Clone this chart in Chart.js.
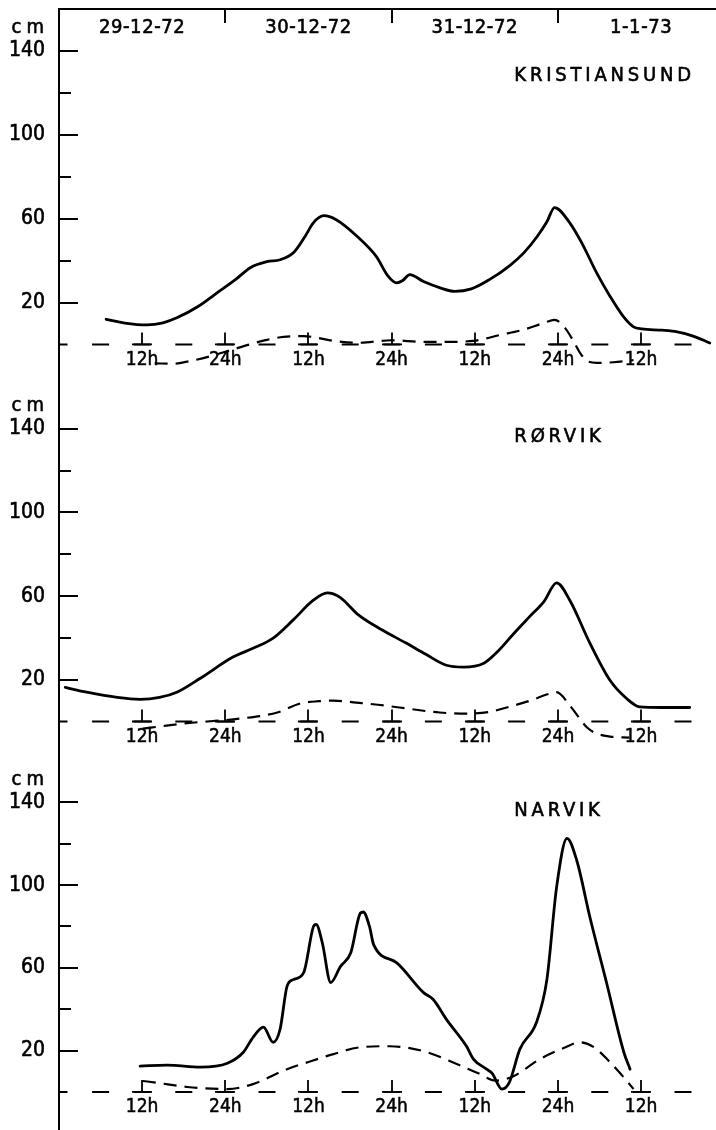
<!DOCTYPE html>
<html>
<head>
<meta charset="utf-8">
<script src="https://cdn.jsdelivr.net/npm/chart.js@4.4.1/dist/chart.umd.min.js"></script>
<style>
  body { margin: 0; background: #fff; }
  .panel { position: absolute; left: 0; }
</style>
</head>
<body>
<canvas id="kristiansund" class="panel" width="716" height="387" style="top:0px"></canvas>
<canvas id="rorvik" class="panel" width="716" height="374" style="top:387px"></canvas>
<canvas id="narvik" class="panel" width="716" height="369" style="top:761px"></canvas>
<script>
const FONT = "'DejaVu Sans Condensed', 'Liberation Sans Narrow', sans-serif";

// time axis: hours counted from 29-12-72 00h
const hourTicks = [12, 24, 36, 48, 60, 72, 84];
const hourLabels = ['12h', '24h', '12h', '24h', '12h', '24h', '12h'];
const dayLabels = ['29-12-72', '30-12-72', '31-12-72', '1-1-73'];
const dayCentres = [12, 36, 60, 84];
const dayBreaks = [24, 48, 72];
const cmTicks = [20, 40, 60, 80, 100, 120, 140];
const cmLabels = ['20', '', '60', '', '100', '', '140'];
const X_MAX = 94.8;

// KRISTIANSUND
const kristiansundSolidHours = [6.8, 9.5, 12.7, 15, 17, 20, 22.8, 25.5, 27.6, 30, 31.9, 33.9, 35.5, 36.7, 38.2, 40, 43.2, 45.8, 47.4, 48.7, 49.6, 50.6, 52.6, 55, 57.1, 59.5, 62.1, 65, 67.1, 69, 70.4, 71.5, 73.7, 75.5, 77.6, 79.5, 81.5, 82.9, 84.1, 87, 89.2, 91.5, 93.9];
const kristiansundSolid = [12, 10.2, 9.3, 10.3, 12.7, 18, 24.6, 31, 36.6, 39.5, 40.4, 44, 51.5, 58, 61.4, 59.5, 51, 41.9, 33, 29.4, 30.5, 33.3, 30, 27, 25.3, 26.5, 30.9, 37.5, 43.8, 51.5, 58.5, 65.3, 58, 48, 34, 23, 13, 8.4, 7.4, 6.8, 6, 4, 0.7];
const kristiansundDashedHours = [13.8, 16.5, 19.5, 22, 25, 27.5, 30, 32.4, 35.3, 37.5, 39.6, 43.2, 48, 52.6, 55.5, 59.8, 63.6, 67, 70, 71.5, 73, 74.3, 75.2, 76.2, 77.6, 80, 82.9];
const kristiansundDashed = [-9, -9.2, -7.5, -5.5, -2.5, 0, 2.2, 3.6, 4, 3, 1.7, 0.8, 2, 1.2, 1.2, 1.7, 4.5, 7, 10.3, 11.7, 7.9, 1.2, -4.1, -7.9, -8.8, -8.5, -7.5];

// RØRVIK
const rorvikSolidHours = [0.9, 4, 8.4, 11.7, 14.5, 17, 20.4, 25.1, 28, 30.9, 33.8, 36.7, 38.7, 40.5, 43.2, 46.5, 50.1, 53, 55.9, 58.4, 61.3, 63.3, 65.6, 67.8, 70, 71.8, 73.7, 76.6, 79.5, 81.9, 83.8, 87, 91];
const rorvikSolid = [16.3, 14, 11.5, 10.6, 11.5, 14, 20.7, 30.8, 35, 39.9, 48.6, 58, 61.5, 59.5, 51, 44, 37.5, 32, 26.9, 26, 27.9, 33.5, 42, 49.8, 57.5, 66.3, 58, 37.5, 19.7, 11, 7, 6.7, 6.7];
const rorvikDashedHours = [12.1, 15.5, 18.5, 21.4, 26.2, 31.5, 34.8, 37.5, 39.6, 42.9, 46, 49.1, 54.9, 58.8, 62, 64.6, 68, 70.5, 71.8, 73.7, 75, 76.2, 77.6, 79.5, 82.3];
const rorvikDashed = [-3.4, -2, -0.8, 0, 1.4, 4.3, 8.6, 9.7, 10, 9, 8, 6.7, 4.3, 3.8, 4.5, 6.7, 10, 13, 14, 7.7, 2, -2.9, -5.8, -7.2, -7.7];

// NARVIK
const narvikSolidHours = [11.7, 15.6, 20.4, 24.3, 26.6, 28, 29.5, 30.9, 31.9, 32.9, 33.8, 35.3, 36.7, 37.1, 38, 39.2, 40.6, 42.1, 43.5, 43.9, 44.8, 45.4, 48.7, 52.6, 54, 55.9, 58.8, 59.8, 61.7, 62.5, 63.9, 65, 66.5, 68.9, 70.4, 71.8, 73.3, 74.7, 76.6, 79, 81.5, 82.4];
const narvikSolid = [12.5, 13, 12, 13.9, 19.2, 26.4, 31.3, 24, 30.3, 51, 54.3, 57.7, 79.8, 81, 72, 52.9, 60.6, 67.3, 86.5, 87, 80, 71.2, 62.5, 48, 44.7, 35.1, 22.1, 15.9, 11, 9, 1.4, 4.8, 20.7, 33.7, 54.3, 99, 122.6, 112, 84.6, 52.9, 19.2, 11];
const narvikDashedHours = [12.1, 14, 18.5, 24.3, 28, 32.9, 36, 39.6, 43.5, 47.7, 52.6, 57.4, 60.5, 63, 65.5, 69.4, 73, 75.1, 77.2, 79.5, 81.5, 82.9];
const narvikDashed = [5.3, 4.5, 2.4, 1.4, 3.8, 11, 14.5, 18.3, 21.6, 22.1, 19.7, 13.5, 9, 5.5, 7.5, 15.9, 21.5, 24, 21.6, 14.4, 7, 1.4];

// text drawn slightly heavier, like the lettering of the original
function heavyText(ctx, text, x, y) {
  ctx.lineWidth = 0.6;
  ctx.strokeText(text, x, y);
  ctx.fillText(text, x, y);
}

// axis marks, labels and the date header, placed through the chart scales
const decor = {
  id: 'decor',
  afterDraw(chart, args, opts) {
    const {ctx, chartArea: a, scales: {x, y}} = chart;
    ctx.save();
    ctx.strokeStyle = '#000';
    ctx.fillStyle = '#000';
    ctx.lineWidth = 2;

    // inward ticks on the cm axis, longer where labelled
    cmTicks.forEach((v, i) => {
      const py = Math.round(y.getPixelForValue(v));
      const len = cmLabels[i] ? 19 : 12;
      ctx.beginPath();
      ctx.moveTo(a.left, py);
      ctx.lineTo(a.left + len, py);
      ctx.stroke();
    });

    // upside-down T marks on the zero line
    const base = y.getPixelForValue(0);
    ctx.lineWidth = 1.8;
    hourTicks.forEach(h => {
      const px = Math.round(x.getPixelForValue(h));
      ctx.beginPath();
      ctx.moveTo(px, base - 12);
      ctx.lineTo(px, base);
      ctx.moveTo(px - 10, base);
      ctx.lineTo(px + 10, base);
      ctx.stroke();
    });

    ctx.textBaseline = 'middle';
    ctx.font = `20px ${FONT}`;
    ctx.textAlign = 'right';
    ctx.letterSpacing = '5px';
    heavyText(ctx, 'cm', 49, y.getPixelForValue(151));

    ctx.font = `20px ${FONT}`;
    ctx.textAlign = 'left';
    ctx.letterSpacing = '3.8px';
    heavyText(ctx, opts.name, x.getPixelForValue(opts.nameHour), y.getPixelForValue(opts.nameLevel));

    if (opts.header) {
      ctx.letterSpacing = '0.6px';
      ctx.lineWidth = 2;
      ctx.beginPath();
      ctx.moveTo(a.left, a.top);
      ctx.lineTo(a.right, a.top);
      ctx.stroke();
      dayBreaks.forEach(h => {
        const px = Math.round(x.getPixelForValue(h));
        ctx.beginPath();
        ctx.moveTo(px, a.top);
        ctx.lineTo(px, a.top + 14);
        ctx.stroke();
      });
      ctx.font = `20px ${FONT}`;
      ctx.textAlign = 'center';
      dayLabels.forEach((d, i) => {
        heavyText(ctx, d, x.getPixelForValue(dayCentres[i]), a.top + 19);
      });
    }
    ctx.restore();
  }
};

function makePanel(id, name, nameLevel, solidHours, solid, dashedHours, dashed, yMin, padTop, header) {
  const pts = (hours, vals) => hours.map((h, i) => ({x: h, y: vals[i]}));
  return new Chart(document.getElementById(id), {
    type: 'line',
    data: {
      datasets: [
        {
          // dashed zero line
          data: [{x: 0, y: 0}, {x: X_MAX, y: 0}],
          borderColor: '#000',
          borderWidth: 2,
          borderDash: [17, 24.6],
          borderDashOffset: 8.5,
          pointRadius: 0
        },
        {
          data: pts(solidHours, solid),
          borderColor: '#000',
          borderWidth: 2.8,
          borderCapStyle: 'round',
          borderJoinStyle: 'round',
          cubicInterpolationMode: 'monotone',
          pointRadius: 0
        },
        {
          data: pts(dashedHours, dashed),
          borderColor: '#000',
          borderWidth: 2.2,
          borderDash: [13, 8],
          cubicInterpolationMode: 'monotone',
          pointRadius: 0
        }
      ]
    },
    options: {
      responsive: false,
      animation: false,
      events: [],
      layout: {padding: {top: padTop, left: 0, right: 0, bottom: 0}},
      plugins: {
        legend: {display: false},
        tooltip: {enabled: false},
        decor: {name: name, nameHour: 65.7, nameLevel: nameLevel, header: header}
      },
      scales: {
        x: {
          type: 'linear',
          min: 0,
          max: X_MAX,
          position: {y: 0},
          border: {display: false},
          grid: {display: false, drawTicks: false},
          afterBuildTicks: s => { s.ticks = hourTicks.map(v => ({value: v})); },
          afterFit: s => { s.paddingLeft = 0; s.paddingRight = 0; },
          ticks: {
            autoSkip: false,
            maxRotation: 0,
            padding: 4,
            color: '#000',
            textStrokeColor: '#000',
            textStrokeWidth: 0.5,
            font: {family: FONT, size: 19},
            callback: v => hourLabels[hourTicks.indexOf(v)]
          }
        },
        y: {
          type: 'linear',
          min: yMin,
          max: 160,
          border: {display: true, color: '#000', width: 2},
          grid: {display: false, drawTicks: false},
          afterFit: s => { s.width = 59; s.paddingTop = 0; s.paddingBottom = 0; },
          afterBuildTicks: s => { s.ticks = cmTicks.map(v => ({value: v})); },
          ticks: {
            autoSkip: false,
            padding: 14,
            color: '#000',
            textStrokeColor: '#000',
            textStrokeWidth: 0.6,
            font: {family: FONT, size: 21},
            callback: v => cmLabels[cmTicks.indexOf(v)]
          }
        }
      }
    },
    plugins: [decor]
  });
}

makePanel('kristiansund', 'KRISTIANSUND', 128, kristiansundSolidHours, kristiansundSolid, kristiansundDashedHours, kristiansundDashed, -20.3, 9, true);
makePanel('rorvik', 'RØRVIK', 136, rorvikSolidHours, rorvikSolid, rorvikDashedHours, rorvikDashed, -18.9, 0, false);
makePanel('narvik', 'NARVIK', 136, narvikSolidHours, narvikSolid, narvikDashedHours, narvikDashed, -18.4, 0, false);
</script>
</body>
</html>
